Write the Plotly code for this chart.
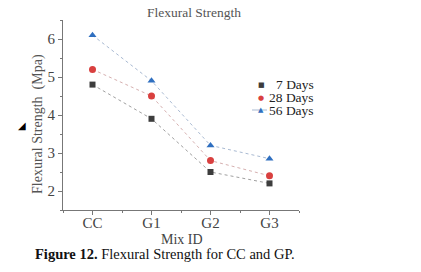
import plotly.graph_objects as go

mix_ids = ["CC", "G1", "G2", "G3"]
days_7 = [4.8, 3.9, 2.5, 2.2]
days_28 = [5.2, 4.5, 2.8, 2.4]
days_56 = [6.1, 4.9, 3.2, 2.85]
series_names = ["7 Days", "28 Days", "56 Days"]
marker_colors = ["#3d3d3d", "#d9403f", "#2f6fc0"]
line_colors = ["#a0a0a0", "#d6b0b0", "#a9bad2"]
symbols = ["square", "circle", "triangle-up"]
legend_glyphs = ["■", "●", "▲"]
y_ticks = [2, 3, 4, 5, 6]

serif = "Liberation Serif, Times New Roman, serif"
xpos = list(range(len(mix_ids)))

fig = go.Figure()
for name, vals, mc, lc, sym in zip(series_names, [days_7, days_28, days_56],
                                   marker_colors, line_colors, symbols):
    fig.add_trace(go.Scatter(
        x=xpos, y=vals, name=name, mode="lines+markers",
        line=dict(color=lc, width=1, dash="dot"),
        marker=dict(symbol=sym, color=mc, size=7 if sym != "square" else 6),
        showlegend=False,
    ))

# plot area in px: x 63..299, y 20..210
L, R, T, B = 63, 299, 20, 210
W, H = 421, 272

def px_x(p):
    return (p - L) / (R - L)

def px_y(p):
    return (B - p) / (B - T)

annotations = []
legend_rows = [85, 97.5, 110]
for name, glyph, mc, row in zip(series_names, legend_glyphs, marker_colors, legend_rows):
    annotations.append(dict(
        x=px_x(316), y=px_y(row), xref="paper", yref="paper",
        xanchor="right", yanchor="middle", text=name, showarrow=False,
        font=dict(family=serif, size=13.5, color="#222")))
    annotations.append(dict(
        x=px_x(261), y=px_y(row), xref="paper", yref="paper",
        xanchor="center", yanchor="middle", text=glyph, showarrow=False,
        font=dict(family="DejaVu Sans", size=7, color=mc)))

annotations.append(dict(
    x=px_x(33), y=px_y(254), xref="paper", yref="paper",
    xanchor="left", yanchor="middle",
    text="<b>Figure 12.</b> Flexural Strength for CC and GP.", showarrow=False,
    font=dict(family=serif, size=14.5, color="#111")))
annotations.append(dict(
    x=px_x(182), y=px_y(239), xref="paper", yref="paper",
    xanchor="center", yanchor="middle", text="Mix ID", showarrow=False,
    font=dict(family=serif, size=14, color="#444")))
annotations.append(dict(
    x=px_x(38), y=px_y(124), xref="paper", yref="paper",
    xanchor="center", yanchor="middle", text="Flexural Strength  (Mpa)",
    textangle=-90, showarrow=False,
    font=dict(family=serif, size=14, color="#555")))
annotations.append(dict(
    x=px_x(22), y=px_y(126), xref="paper", yref="paper",
    xanchor="center", yanchor="middle", text="◢", showarrow=False,
    font=dict(family="DejaVu Sans", size=10, color="#000")))

shapes = [dict(type="line", xref="paper", yref="paper",
               x0=px_x(252), x1=px_x(267), y0=px_y(110), y1=px_y(110),
               line=dict(color=line_colors[2], width=1))]

fig.update_layout(
    width=W, height=H,
    margin=dict(l=L, r=W - R, t=T, b=H - B),
    paper_bgcolor="white", plot_bgcolor="white",
    title=dict(text="Flexural Strength", xref="container", x=194 / W, xanchor="center",
               y=1 - 12 / H, yanchor="middle",
               font=dict(family=serif, size=13.5, color="#555")),
    xaxis=dict(range=[-0.5, 3.5], tickvals=xpos, ticktext=mix_ids,
               showgrid=False, zeroline=False, showline=True,
               linecolor="#777", linewidth=1, ticks="outside", ticklen=4,
               tickcolor="#777", ticklabelstandoff=-5,
               minor=dict(dtick=0.5, tick0=0.5, ticks="outside", ticklen=2, tickcolor="#777"),
               tickfont=dict(family=serif, size=15, color="#444")),
    yaxis=dict(range=[1.5, 6.5], tickvals=y_ticks,
               showgrid=False, zeroline=False, showline=True,
               linecolor="#777", linewidth=1, ticks="outside", ticklen=4,
               tickcolor="#777",
               minor=dict(dtick=0.5, tick0=0.5, ticks="outside", ticklen=2, tickcolor="#777"),
               tickfont=dict(family=serif, size=15, color="#444")),
    annotations=annotations,
    shapes=shapes,
    showlegend=False,
)

fig.write_html("out.html")
